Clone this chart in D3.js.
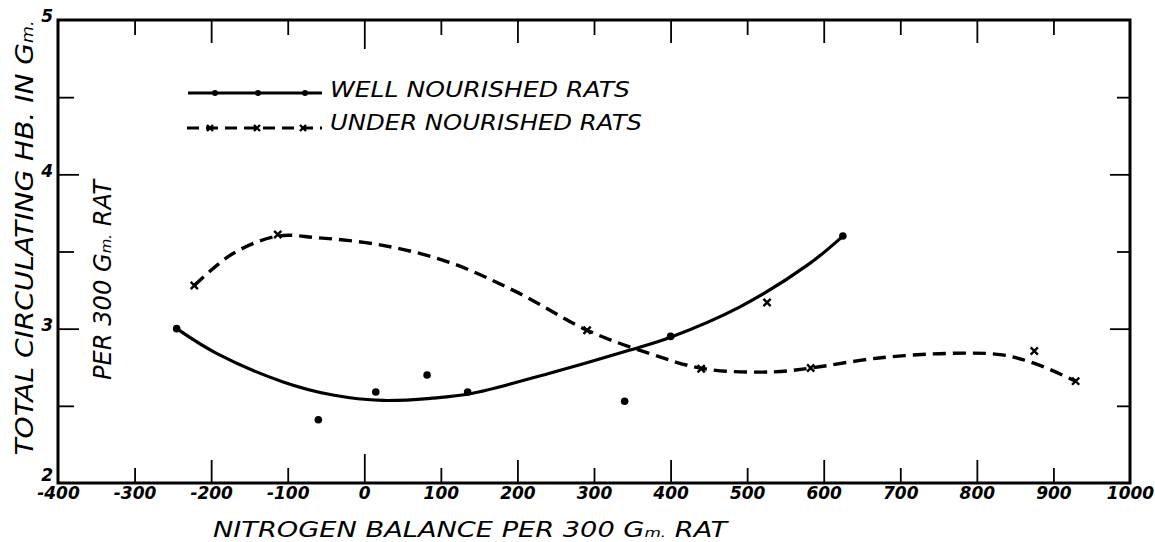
<!DOCTYPE html>
<html>
<head>
<meta charset="utf-8">
<script src="https://cdn.jsdelivr.net/npm/d3@7"></script>
<style>
  html, body { margin: 0; padding: 0; background: #fff; }
  svg { display: block; }
  text { font-family: "DejaVu Sans", sans-serif; fill: #000; }
</style>
</head>
<body>
<svg id="chart" width="1155" height="542"></svg>
<script>
// ---- data ----
const xTickValues = [-400, -300, -200, -100, 0, 100, 200, 300, 400, 500, 600, 700, 800, 900, 1000];
const yTickValues = [2, 3, 4, 5];
const yMinorTicks = [2.5, 3.5, 4.5];

const wellX = [-245, -60, 15, 82, 135, 340, 400, 625];
const wellY = [3.0, 2.41, 2.59, 2.70, 2.59, 2.53, 2.95, 3.6];
const underX = [-222, -113, 291, 440, 526, 583, 875, 929];
const underY = [3.28, 3.61, 2.99, 2.74, 3.17, 2.745, 2.855, 2.66];

// hand-drawn fitted curves (traced)
const wellCurveX = [-245, -193, -106, -41, 24, 89, 140, 241, 346, 400, 490, 581, 625];
const wellCurveY = [3.0, 2.84, 2.655, 2.57, 2.535, 2.55, 2.58, 2.71, 2.86, 2.945, 3.14, 3.42, 3.6];
const underCurveX = [-222, -172, -113, -63, 24, 111, 198, 291, 372, 444, 535, 583, 672, 764, 833, 878, 929];
const underCurveY = [3.28, 3.485, 3.6, 3.59, 3.54, 3.43, 3.24, 2.99, 2.84, 2.74, 2.72, 2.745, 2.81, 2.84, 2.83, 2.77, 2.66];

const legendLabels = ["WELL NOURISHED RATS", "UNDER NOURISHED RATS"];

// ---- layout ----
const L = 58, R = 1130, T = 20, B = 483;
const svg = d3.select("#chart");
const x = d3.scaleLinear().domain([-400, 1000]).range([L, R]);
const y = d3.scaleLinear().domain([2, 5]).range([B, T]);

function clean(g) {
  g.select(".domain").remove();
  g.selectAll(".tick line").attr("stroke", "#000").attr("stroke-width", 1.8);
}

// frame
svg.append("rect").attr("x", L).attr("y", T).attr("width", R - L).attr("height", B - T)
  .attr("fill", "none").attr("stroke", "#000").attr("stroke-width", 3);

const even = xTickValues.filter(d => d % 200 === 0 && d !== 0 && d !== -400 && d !== 1000);
const odd = xTickValues.filter(d => Math.abs(d % 200) === 100);
const zero = [0];

// bottom & top inward ticks
[[d3.axisBottom, B], [d3.axisTop, T]].forEach(([ax, pos]) => {
  svg.append("g").attr("transform", `translate(0,${pos})`)
    .call(ax(x).tickValues(even).tickSize(-23).tickFormat("")).call(clean);
  svg.append("g").attr("transform", `translate(0,${pos})`)
    .call(ax(x).tickValues(odd).tickSize(-15).tickFormat("")).call(clean);
  svg.append("g").attr("transform", `translate(0,${pos})`)
    .call(ax(x).tickValues(zero).tickSize(-29).tickFormat("")).call(clean);
});

// left & right inward ticks
svg.append("g").attr("transform", `translate(${L},0)`)
  .call(d3.axisLeft(y).tickValues([3, 4]).tickSize(-21).tickFormat("")).call(clean);
svg.append("g").attr("transform", `translate(${L},0)`)
  .call(d3.axisLeft(y).tickValues(yMinorTicks).tickSize(-16).tickFormat("")).call(clean);
svg.append("g").attr("transform", `translate(${R},0)`)
  .call(d3.axisRight(y).tickValues([3, 4]).tickSize(-20).tickFormat("")).call(clean);
svg.append("g").attr("transform", `translate(${R},0)`)
  .call(d3.axisRight(y).tickValues(yMinorTicks).tickSize(-13).tickFormat("")).call(clean);

// tick labels
const xl = svg.append("g").attr("transform", `translate(0,${B})`)
  .call(d3.axisBottom(x).tickValues(xTickValues).tickSize(0).tickPadding(4).tickFormat(d => String(d)));
xl.select(".domain").remove();
xl.selectAll("text").style("font-family", "DejaVu Sans").style("font-size", "17px")
  .style("font-weight", "bold").style("font-style", "oblique").attr("fill", "#000");

const yl = svg.append("g").attr("transform", `translate(${L},0)`)
  .call(d3.axisLeft(y).tickValues(yTickValues).tickSize(0).tickPadding(5).tickFormat(d => String(d)));
yl.select(".domain").remove();
yl.selectAll("text").style("font-family", "DejaVu Sans").style("font-size", "17px")
  .style("font-weight", "bold").style("font-style", "oblique")
  .attr("dy", d => d === 2 ? "-0.15em" : "0.1em").attr("fill", "#000");

// curves
const line = d3.line().x(d => x(d[0])).y(d => y(d[1])).curve(d3.curveCatmullRom.alpha(0.5));
svg.append("path").datum(d3.zip(wellCurveX, wellCurveY)).attr("d", line)
  .attr("fill", "none").attr("stroke", "#000").attr("stroke-width", 3.2).attr("stroke-linecap", "round");
svg.append("path").datum(d3.zip(underCurveX, underCurveY)).attr("d", line)
  .attr("fill", "none").attr("stroke", "#000").attr("stroke-width", 3.4)
  .attr("stroke-dasharray", "13,7").attr("stroke-linecap", "butt");

// points
svg.append("g").selectAll("circle").data(d3.zip(wellX, wellY)).join("circle")
  .attr("cx", d => x(d[0])).attr("cy", d => y(d[1])).attr("r", 3.8).attr("fill", "#000");

function cross(g, cx, cy, s) {
  g.append("path").attr("d", `M${cx - s},${cy - s}L${cx + s},${cy + s}M${cx - s},${cy + s}L${cx + s},${cy - s}`)
    .attr("stroke", "#000").attr("stroke-width", 2.4).attr("fill", "none");
}
const cg = svg.append("g");
d3.zip(underX, underY).forEach(d => cross(cg, x(d[0]), y(d[1]), 3.6));

// legend
const lg = svg.append("g");
lg.append("line").attr("x1", 188).attr("x2", 322).attr("y1", 93).attr("y2", 93)
  .attr("stroke", "#000").attr("stroke-width", 3);
[215, 258, 305].forEach(cx => lg.append("circle").attr("cx", cx).attr("cy", 93).attr("r", 3).attr("fill", "#000"));
lg.append("line").attr("x1", 187).attr("x2", 322).attr("y1", 128).attr("y2", 128)
  .attr("stroke", "#000").attr("stroke-width", 3).attr("stroke-dasharray", "12,7");
[210, 257, 303].forEach(cx => cross(lg, cx, 128, 3));
lg.append("text").attr("x", 330).attr("y", 97).attr("textLength", 300).attr("lengthAdjust", "spacingAndGlyphs")
  .style("font-size", "22px").style("font-style", "oblique").text(legendLabels[0]);
lg.append("text").attr("x", 330).attr("y", 130).attr("textLength", 312).attr("lengthAdjust", "spacingAndGlyphs")
  .style("font-size", "22px").style("font-style", "oblique").text(legendLabels[1]);

// axis titles
function gmText(sel, before, after, size) {
  sel.append("tspan").text(before + "G");
  sel.append("tspan").style("font-size", (size * 0.62) + "px").text("m.");
  if (after) sel.append("tspan").text(after);
}
const xt = svg.append("text").attr("x", 213).attr("y", 537).attr("textLength", 514)
  .attr("lengthAdjust", "spacingAndGlyphs").style("font-size", "21px").style("font-style", "oblique");
gmText(xt, "NITROGEN  BALANCE  PER  300 ", "  RAT", 21);

const yt = svg.append("text").attr("transform", "translate(33,238) rotate(-90)").attr("text-anchor", "middle")
  .attr("textLength", 435).attr("lengthAdjust", "spacingAndGlyphs")
  .style("font-size", "25px").style("font-style", "oblique");
gmText(yt, "TOTAL  CIRCULATING  HB.  IN  ", "", 25);

const yt2 = svg.append("text").attr("transform", "translate(111,280) rotate(-90)").attr("text-anchor", "middle")
  .attr("textLength", 200).attr("lengthAdjust", "spacingAndGlyphs")
  .style("font-size", "24px").style("font-style", "oblique");
gmText(yt2, "PER  300 ", "  RAT", 24);
</script>
</body>
</html>
